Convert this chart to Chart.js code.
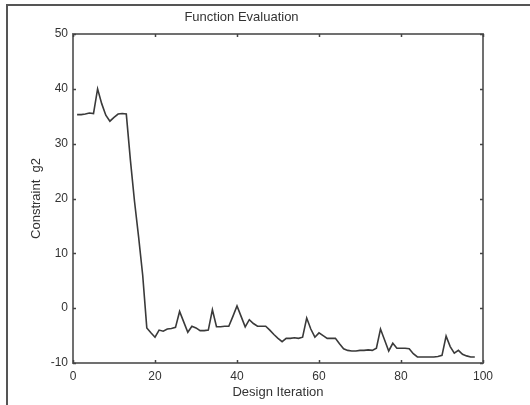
<!DOCTYPE html>
<html>
<head>
<meta charset="utf-8">
<script src="https://cdn.jsdelivr.net/npm/chart.js@4"></script>
<style>
html,body{margin:0;padding:0;background:#fff;}
canvas{display:block;}
</style>
</head>
<body>
<canvas id="c" width="530" height="405"></canvas>
<script>
// ---- data ----
const iterations = [1,2,3,4,5,6,7,8,9,10,11,12,13,14,15,16,17,18,19,20,21,22,23,24,25,26,27,28,29,30,31,32,33,34,35,36,37,38,39,40,41,42,43,44,45,46,47,48,49,50,51,52,53,54,55,56,57,58,59,60,61,62,63,64,65,66,67,68,69,70,71,72,73,74,75,76,77,78,79,80,81,82,83,84,85,86,87,88,89,90,91,92,93,94,95,96,97,98];
const constraintG2 = [35.3,35.3,35.4,35.6,35.5,40.0,37.3,35.2,34.1,34.8,35.4,35.5,35.4,27.0,19.5,13.0,6.0,-3.6,-4.5,-5.3,
  -4.0,-4.2,-3.8,-3.7,-3.5,-0.6,-2.5,-4.4,-3.3,-3.6,-4.1,-4.1,-4.0,-0.3,-3.4,-3.4,-3.3,-3.3,-1.5,0.4,
  -1.5,-3.4,-2.1,-2.8,-3.3,-3.3,-3.3,-4.0,-4.8,-5.5,-6.1,-5.5,-5.5,-5.4,-5.5,-5.3,-1.8,-3.8,-5.3,-4.5,
  -5.0,-5.5,-5.5,-5.5,-6.5,-7.4,-7.7,-7.8,-7.8,-7.7,-7.7,-7.6,-7.7,-7.3,-3.8,-5.8,-7.8,-6.4,-7.3,-7.3,
  -7.3,-7.4,-8.3,-8.9,-8.9,-8.9,-8.9,-8.9,-8.8,-8.6,-5.1,-7.0,-8.2,-7.7,-8.4,-8.7,-8.9,-8.9];
const xTickValues = [0,20,40,60,80,100];
const yTickValues = [-10,0,10,20,30,40,50];
const titleText = 'Function Evaluation';
const xTitle = 'Design Iteration';
const yTitle = 'Constraint  g2';

const FONT = 'Liberation Sans, Arial, Helvetica, sans-serif';
const TEXT = '#333';

const boxPlugin = {
  id: 'matlabBox',
  afterDraw(chart) {
    const ctx = chart.ctx;
    const a = chart.chartArea;
    const xs = chart.scales.x, ys = chart.scales.y;
    ctx.save();
    // axes box
    ctx.strokeStyle = '#707070';
    ctx.lineWidth = 2;
    ctx.strokeRect(a.left, a.top, a.right - a.left, a.bottom - a.top);
    // inward ticks
    ctx.strokeStyle = '#444';
    ctx.lineWidth = 1.5;
    const L = 3;
    ctx.beginPath();
    xTickValues.forEach(v => {
      const px = Math.round(xs.getPixelForValue(v)) + 0.5;
      ctx.moveTo(px, a.bottom); ctx.lineTo(px, a.bottom - L);
      ctx.moveTo(px, a.top); ctx.lineTo(px, a.top + L);
    });
    yTickValues.forEach(v => {
      const py = Math.round(ys.getPixelForValue(v)) + 0.5;
      ctx.moveTo(a.left, py); ctx.lineTo(a.left + L, py);
      ctx.moveTo(a.right, py); ctx.lineTo(a.right - L, py);
    });
    ctx.stroke();
    // outer frame (top and left edges visible)
    ctx.strokeStyle = '#555';
    ctx.lineWidth = 2;
    ctx.beginPath();
    ctx.moveTo(7, 405); ctx.lineTo(7, 5); ctx.lineTo(530, 5);
    ctx.stroke();
    ctx.restore();
  }
};

new Chart(document.getElementById('c'), {
  type: 'line',
  data: {
    datasets: [{
      data: iterations.map((it, i) => ({x: it, y: constraintG2[i]})),
      borderColor: '#3a3a3a',
      borderWidth: 1.6,
      pointRadius: 0,
      tension: 0,
      fill: false
    }]
  },
  options: {
    responsive: false,
    animation: false,
    devicePixelRatio: 1,
    layout: {padding: {left: 0, top: 0, right: 47, bottom: 0}},
    plugins: {
      legend: {display: false},
      tooltip: {enabled: false},
      title: {
        display: true,
        text: titleText,
        color: TEXT,
        font: {family: FONT, size: 13, weight: 'normal'},
        padding: {top: 10, bottom: 8.4}
      }
    },
    scales: {
      x: {
        type: 'linear',
        min: 0, max: 100,
        afterBuildTicks: s => { s.ticks = xTickValues.map(v => ({value: v})); },
        afterFit: s => { s.height = 42; },
        grid: {display: false, drawTicks: false},
        border: {display: false},
        ticks: {color: TEXT, font: {family: FONT, size: 12}, padding: 6, maxRotation: 0, autoSkip: false},
        title: {display: true, text: xTitle, color: TEXT, font: {family: FONT, size: 13}, padding: {top: 0, bottom: 5}}
      },
      y: {
        type: 'linear',
        min: -10, max: 50,
        afterBuildTicks: s => { s.ticks = yTickValues.map(v => ({value: v})); },
        afterFit: s => { s.width = 73; },
        grid: {display: false, drawTicks: false},
        border: {display: false},
        ticks: {color: TEXT, font: {family: FONT, size: 12}, padding: 5, autoSkip: false},
        title: {display: true, text: yTitle, color: TEXT, font: {family: FONT, size: 13}, padding: {top: 29, bottom: 0}}
      }
    }
  },
  plugins: [boxPlugin]
});
</script>
</body>
</html>
